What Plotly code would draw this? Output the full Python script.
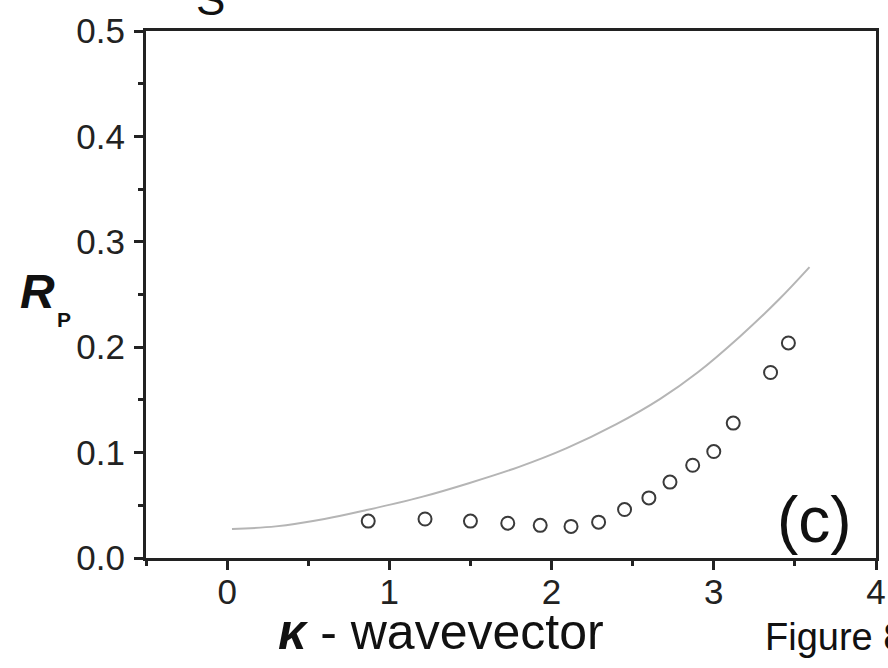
import plotly.graph_objects as go

# Measured points (open circles)
kappa_points = [0.87, 1.22, 1.50, 1.73, 1.93, 2.12, 2.29, 2.45, 2.60, 2.73, 2.87, 3.00, 3.12, 3.35, 3.46]
rp_points = [0.035, 0.037, 0.035, 0.033, 0.031, 0.030, 0.034, 0.046, 0.057, 0.072, 0.088, 0.101, 0.128, 0.176, 0.204]

# Theory curve (grey line)
kappa_curve = [0.03, 0.3, 0.6, 0.86, 1.2, 1.49, 1.8, 2.09, 2.4, 2.67, 2.9, 3.16, 3.4, 3.59]
rp_curve = [0.0275, 0.030, 0.037, 0.0455, 0.058, 0.071, 0.0865, 0.104, 0.127, 0.151, 0.176, 0.210, 0.245, 0.276]

x_ticks = [0, 1, 2, 3, 4]
y_ticks = [0.0, 0.1, 0.2, 0.3, 0.4, 0.5]

FONT = "Liberation Sans, Arial, sans-serif"

fig = go.Figure()
fig.add_trace(go.Scatter(
    x=kappa_curve, y=rp_curve, mode="lines",
    line=dict(color="#b5b5b5", width=2, shape="spline", smoothing=1.0),
    showlegend=False, hoverinfo="skip"))
fig.add_trace(go.Scatter(
    x=kappa_points, y=rp_points, mode="markers",
    marker=dict(symbol="circle-open", size=13, color="#3a3a3a", line=dict(width=2, color="#3a3a3a")),
    showlegend=False))

axis_common = dict(
    showgrid=False, zeroline=False, showline=True, linecolor="#222", linewidth=3,
    mirror=True, ticks="outside", ticklen=9, tickwidth=2.5, tickcolor="#222",
    tickfont=dict(family=FONT, size=35, color="#222"), automargin=False,
)

fig.update_xaxes(range=[-0.5, 4], tickvals=x_ticks, ticktext=[str(v) for v in x_ticks],
                 minor=dict(dtick=0.5, tick0=0, ticks="outside", ticklen=5, tickwidth=2.5, tickcolor="#222"),
                 ticklabelstandoff=-8, **axis_common)
fig.update_yaxes(range=[0, 0.5], tickvals=y_ticks, ticktext=[f"{v:.1f}" for v in y_ticks],
                 minor=dict(dtick=0.05, tick0=0, ticks="outside", ticklen=5, tickwidth=2.5, tickcolor="#222"),
                 ticklabelstandoff=2, **axis_common)

annotations = [
    dict(text="<b><i>R</i></b>", x=-0.149, y=0.505, font=dict(family=FONT, size=48, color="#111")),
    dict(text="<b>P</b>", x=-0.112, y=0.452, font=dict(family=FONT, size=21, color="#111")),
    dict(text="<b><i>κ</i></b> - wavevector", x=(441 - 146) / 730, y=-0.14,
         font=dict(family=FONT, size=50, color="#111")),
    dict(text="(c)", x=0.916, y=0.072, font=dict(family=FONT, size=64, color="#111")),
    dict(text="Figure 8", x=(763 - 146) / 730, y=-0.15, xanchor="left",
         font=dict(family=FONT, size=38, color="#111")),
    dict(text="S", x=(210 - 146) / 730, y=1.0095, yanchor="bottom",
         font=dict(family=FONT, size=44, color="#111")),
]
for a in annotations:
    a.setdefault("xanchor", "center")
    a.setdefault("yanchor", "middle")
    fig.add_annotation(xref="paper", yref="paper", showarrow=False, **a)

fig.update_layout(
    width=888, height=668,
    margin=dict(l=146, r=12, t=31, b=110, autoexpand=False),
    paper_bgcolor="white", plot_bgcolor="white",
)

fig.write_html("out.html", config={"displayModeBar": False},
               post_script="document.body.style.margin='0';document.body.style.overflow='hidden';")
